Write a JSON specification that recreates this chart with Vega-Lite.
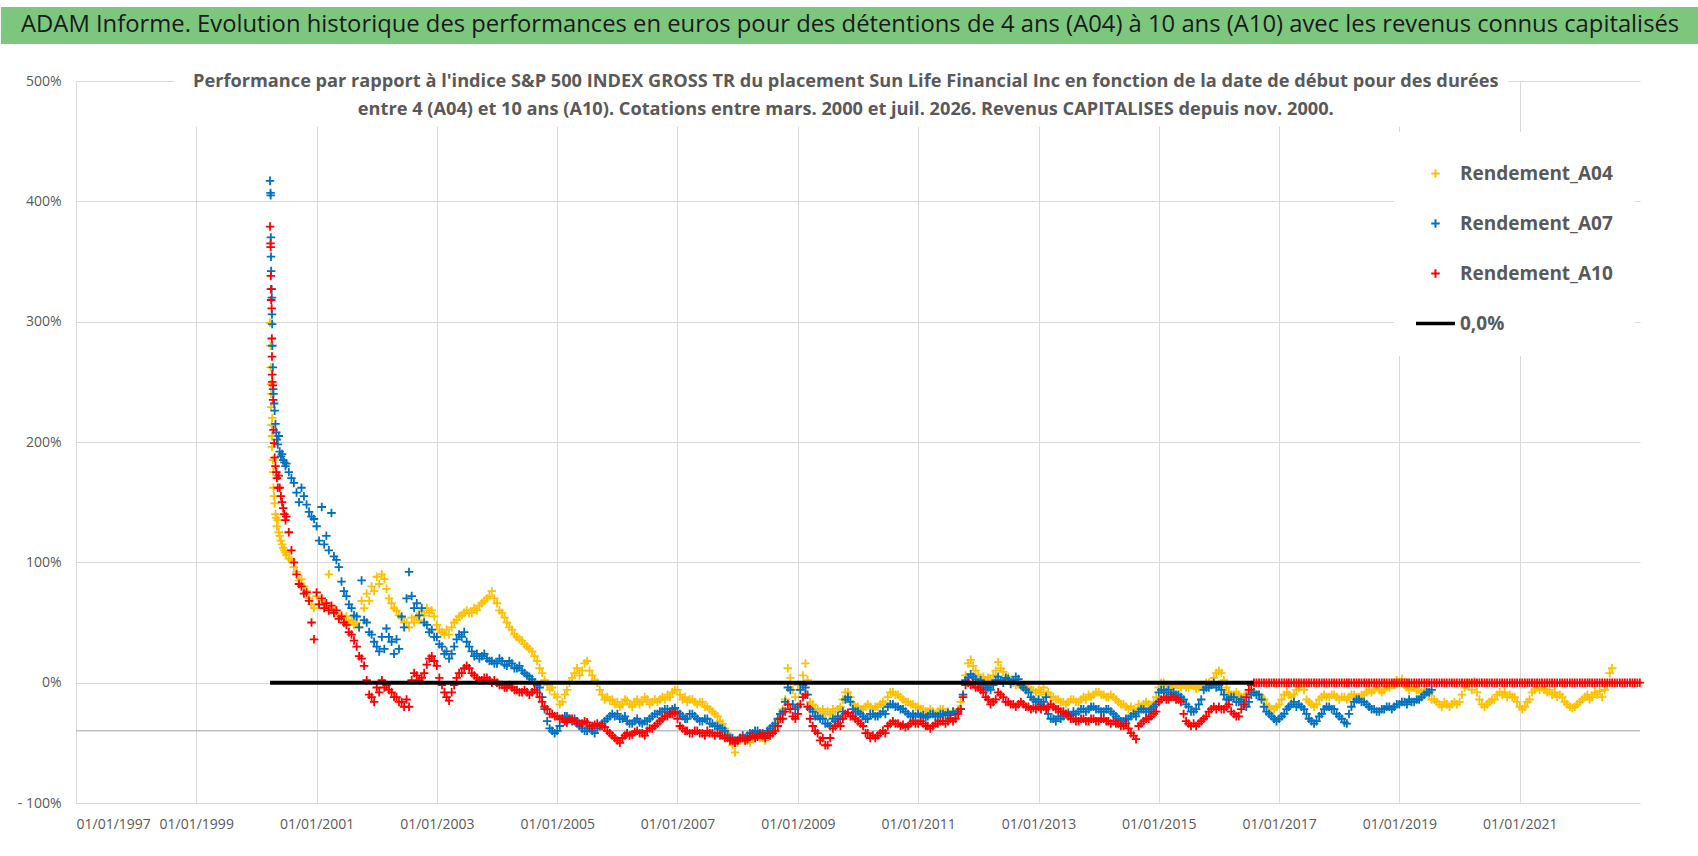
{
"$schema":"https://vega.github.io/schema/vega-lite/v6.json",
"background":"white",
"padding":{"left":0,"top":6,"right":0,"bottom":0},
"autosize":{"type":"pad"},
"width":1564,"height":722,
"config":{
 "view":{"stroke":null},
 "font":"Open Sans",
 "axis":{"gridColor":"#D9D9D9","gridWidth":1,"labelColor":"#595959","labelFont":"Open Sans","labelFontSize":14,"ticks":false,"domain":false}
},
"datasets":{
"zero":[{"d":"2000-03-24","v":0},{"d":"2016-07-31","v":0}],
"perf":[
{"d":"2000-03-24","A04":2.99,"A07":4.17,"A10":3.79},
{"d":"2000-03-27","A04":2.80,"A07":4.07,"A10":3.65},
{"d":"2000-03-28","A04":2.62,"A07":4.05,"A10":3.62},
{"d":"2000-03-29","A04":2.48,"A07":3.70,"A10":3.38},
{"d":"2000-03-30","A04":2.40,"A07":3.54,"A10":3.27},
{"d":"2000-03-31","A04":2.29,"A07":3.42,"A10":3.18},
{"d":"2000-04-03","A04":2.14,"A07":3.27,"A10":3.11},
{"d":"2000-04-04","A04":2.05,"A07":3.20,"A10":2.86},
{"d":"2000-04-05","A04":1.96,"A07":3.06,"A10":2.71},
{"d":"2000-04-06","A04":2.20,"A07":2.98,"A10":2.56},
{"d":"2000-04-07","A04":2.05,"A07":2.80,"A10":2.50},
{"d":"2000-04-10","A04":1.85,"A07":2.62,"A10":2.47},
{"d":"2000-04-12","A04":1.75,"A07":2.44,"A10":2.35},
{"d":"2000-04-14","A04":1.62,"A07":2.40,"A10":2.10},
{"d":"2000-04-18","A04":1.55,"A07":2.32,"A10":1.99},
{"d":"2000-04-21","A04":1.49,"A07":2.26,"A10":1.87},
{"d":"2000-04-26","A04":1.40,"A07":2.15,"A10":1.80},
{"d":"2000-05-01","A04":1.37,"A07":2.08,"A10":1.75},
{"d":"2000-05-05","A04":1.30,"A07":2.02,"A10":1.70},
{"d":"2000-05-10","A04":1.35,"A07":1.98,"A10":1.62},
{"d":"2000-05-16","A04":1.25,"A07":2.05,"A10":1.72},
{"d":"2000-05-22","A04":1.22,"A07":1.92,"A10":1.62},
{"d":"2000-05-29","A04":1.18,"A07":1.88,"A10":1.55},
{"d":"2000-06-05","A04":1.15,"A07":1.90,"A10":1.50},
{"d":"2000-06-12","A04":1.12,"A07":1.85,"A10":1.45},
{"d":"2000-06-19","A04":1.10,"A07":1.83,"A10":1.40},
{"d":"2000-06-26","A04":1.08,"A07":1.80,"A10":1.35},
{"d":"2000-07-01","A04":1.06,"A07":1.82,"A10":1.38},
{"d":"2000-07-16","A04":1.03,"A07":1.75,"A10":1.25},
{"d":"2000-08-01","A04":1.02,"A07":1.70,"A10":1.10},
{"d":"2000-08-16","A04":0.96,"A07":1.66,"A10":1.00},
{"d":"2000-09-01","A04":0.92,"A07":1.58,"A10":0.90},
{"d":"2000-09-16","A04":0.85,"A07":1.50,"A10":0.82},
{"d":"2000-10-01","A04":0.86,"A07":1.62,"A10":0.80},
{"d":"2000-10-16","A04":0.80,"A07":1.55,"A10":0.74},
{"d":"2000-11-01","A04":0.76,"A07":1.48,"A10":0.75},
{"d":"2000-11-16","A04":0.70,"A07":1.42,"A10":0.68},
{"d":"2000-12-01","A04":0.65,"A07":1.38,"A10":0.50},
{"d":"2000-12-16","A04":0.62,"A07":1.36,"A10":0.36},
{"d":"2001-01-01","A04":0.72,"A07":1.30,"A10":0.75},
{"d":"2001-01-16","A04":0.65,"A07":1.18,"A10":0.65},
{"d":"2001-02-01","A04":0.68,"A07":1.46,"A10":0.70},
{"d":"2001-02-16","A04":0.62,"A07":1.15,"A10":0.62},
{"d":"2001-03-01","A04":0.64,"A07":1.22,"A10":0.66},
{"d":"2001-03-16","A04":0.90,"A07":1.10,"A10":0.60},
{"d":"2001-04-01","A04":0.62,"A07":1.41,"A10":0.64},
{"d":"2001-04-16","A04":0.58,"A07":1.05,"A10":0.58},
{"d":"2001-05-01","A04":0.60,"A07":1.02,"A10":0.60},
{"d":"2001-05-16","A04":0.55,"A07":0.96,"A10":0.53},
{"d":"2001-06-01","A04":0.56,"A07":0.84,"A10":0.55},
{"d":"2001-06-16","A04":0.50,"A07":0.76,"A10":0.50},
{"d":"2001-07-01","A04":0.55,"A07":0.72,"A10":0.48},
{"d":"2001-07-16","A04":0.50,"A07":0.65,"A10":0.42},
{"d":"2001-08-01","A04":0.52,"A07":0.62,"A10":0.40},
{"d":"2001-08-16","A04":0.48,"A07":0.56,"A10":0.35},
{"d":"2001-09-01","A04":0.50,"A07":0.55,"A10":0.30},
{"d":"2001-09-16","A04":0.46,"A07":0.46,"A10":0.22},
{"d":"2001-10-01","A04":0.68,"A07":0.85,"A10":0.20},
{"d":"2001-10-16","A04":0.62,"A07":0.52,"A10":0.14},
{"d":"2001-11-01","A04":0.74,"A07":0.50,"A10":0.02},
{"d":"2001-11-16","A04":0.68,"A07":0.42,"A10":-0.10},
{"d":"2001-12-01","A04":0.80,"A07":0.40,"A10":-0.12},
{"d":"2001-12-16","A04":0.76,"A07":0.34,"A10":-0.16},
{"d":"2002-01-01","A04":0.88,"A07":0.30,"A10":-0.04},
{"d":"2002-01-16","A04":0.82,"A07":0.26,"A10":-0.08},
{"d":"2002-02-01","A04":0.90,"A07":0.38,"A10":0.02},
{"d":"2002-02-16","A04":0.86,"A07":0.28,"A10":-0.04},
{"d":"2002-03-01","A04":0.78,"A07":0.45,"A10":-0.02},
{"d":"2002-03-16","A04":0.70,"A07":0.38,"A10":-0.06},
{"d":"2002-04-01","A04":0.66,"A07":0.34,"A10":-0.08},
{"d":"2002-04-16","A04":0.62,"A07":0.24,"A10":-0.12},
{"d":"2002-05-01","A04":0.60,"A07":0.36,"A10":-0.12},
{"d":"2002-05-16","A04":0.56,"A07":0.28,"A10":-0.16},
{"d":"2002-06-01","A04":0.54,"A07":0.55,"A10":-0.16},
{"d":"2002-06-16","A04":0.50,"A07":0.46,"A10":-0.20},
{"d":"2002-07-01","A04":0.50,"A07":0.70,"A10":-0.14},
{"d":"2002-07-16","A04":0.46,"A07":0.92,"A10":-0.20},
{"d":"2002-08-01","A04":0.54,"A07":0.72,"A10":0.02},
{"d":"2002-08-16","A04":0.50,"A07":0.62,"A10":0.08},
{"d":"2002-09-01","A04":0.55,"A07":0.66,"A10":0.06},
{"d":"2002-09-16","A04":0.52,"A07":0.56,"A10":0.02},
{"d":"2002-10-01","A04":0.60,"A07":0.62,"A10":0.04},
{"d":"2002-10-16","A04":0.56,"A07":0.50,"A10":0.08},
{"d":"2002-11-01","A04":0.62,"A07":0.48,"A10":0.15},
{"d":"2002-11-16","A04":0.58,"A07":0.42,"A10":0.20},
{"d":"2002-12-01","A04":0.60,"A07":0.44,"A10":0.22},
{"d":"2002-12-16","A04":0.55,"A07":0.38,"A10":0.18},
{"d":"2003-01-01","A04":0.48,"A07":0.38,"A10":0.14},
{"d":"2003-01-16","A04":0.44,"A07":0.32,"A10":0.04},
{"d":"2003-02-01","A04":0.42,"A07":0.30,"A10":-0.02},
{"d":"2003-02-16","A04":0.40,"A07":0.24,"A10":-0.08},
{"d":"2003-03-01","A04":0.44,"A07":0.26,"A10":-0.12},
{"d":"2003-03-16","A04":0.40,"A07":0.20,"A10":-0.15},
{"d":"2003-04-01","A04":0.46,"A07":0.24,"A10":-0.08},
{"d":"2003-04-16","A04":0.50,"A07":0.30,"A10":-0.02},
{"d":"2003-05-01","A04":0.52,"A07":0.36,"A10":0.04},
{"d":"2003-05-16","A04":0.55,"A07":0.40,"A10":0.08},
{"d":"2003-06-01","A04":0.56,"A07":0.38,"A10":0.08},
{"d":"2003-06-16","A04":0.58,"A07":0.42,"A10":0.12},
{"d":"2003-07-01","A04":0.60,"A07":0.34,"A10":0.14},
{"d":"2003-07-16","A04":0.58,"A07":0.30,"A10":0.12},
{"d":"2003-08-01","A04":0.58,"A07":0.26,"A10":0.08},
{"d":"2003-08-16","A04":0.62,"A07":0.22,"A10":0.06},
{"d":"2003-09-01","A04":0.60,"A07":0.24,"A10":0.04},
{"d":"2003-09-16","A04":0.64,"A07":0.20,"A10":0.02},
{"d":"2003-10-01","A04":0.66,"A07":0.22,"A10":0.02},
{"d":"2003-10-16","A04":0.68,"A07":0.24,"A10":0.04},
{"d":"2003-11-01","A04":0.70,"A07":0.20,"A10":0.04},
{"d":"2003-11-16","A04":0.72,"A07":0.18,"A10":0.02},
{"d":"2003-12-01","A04":0.76,"A07":0.18,"A10":0.00},
{"d":"2003-12-16","A04":0.70,"A07":0.16,"A10":0.02},
{"d":"2004-01-01","A04":0.66,"A07":0.16,"A10":0.00},
{"d":"2004-01-16","A04":0.60,"A07":0.20,"A10":-0.02},
{"d":"2004-02-01","A04":0.58,"A07":0.18,"A10":-0.02},
{"d":"2004-02-16","A04":0.54,"A07":0.15,"A10":-0.04},
{"d":"2004-03-01","A04":0.50,"A07":0.14,"A10":-0.04},
{"d":"2004-03-16","A04":0.46,"A07":0.18,"A10":-0.02},
{"d":"2004-04-01","A04":0.44,"A07":0.16,"A10":-0.04},
{"d":"2004-04-16","A04":0.40,"A07":0.12,"A10":-0.06},
{"d":"2004-05-01","A04":0.38,"A07":0.12,"A10":-0.06},
{"d":"2004-05-16","A04":0.36,"A07":0.14,"A10":-0.08},
{"d":"2004-06-01","A04":0.35,"A07":0.10,"A10":-0.08},
{"d":"2004-06-16","A04":0.32,"A07":0.08,"A10":-0.06},
{"d":"2004-07-01","A04":0.30,"A07":0.06,"A10":-0.08},
{"d":"2004-07-16","A04":0.28,"A07":0.05,"A10":-0.10},
{"d":"2004-08-01","A04":0.26,"A07":0.03,"A10":-0.08},
{"d":"2004-08-16","A04":0.22,"A07":0.00,"A10":-0.06},
{"d":"2004-09-01","A04":0.18,"A07":-0.02,"A10":-0.08},
{"d":"2004-09-16","A04":0.12,"A07":-0.04,"A10":-0.12},
{"d":"2004-10-01","A04":0.08,"A07":-0.12,"A10":-0.16},
{"d":"2004-10-16","A04":0.02,"A07":-0.22,"A10":-0.20},
{"d":"2004-11-01","A04":-0.02,"A07":-0.32,"A10":-0.22},
{"d":"2004-11-16","A04":-0.06,"A07":-0.38,"A10":-0.26},
{"d":"2004-12-01","A04":-0.04,"A07":-0.40,"A10":-0.26},
{"d":"2004-12-16","A04":-0.10,"A07":-0.42,"A10":-0.28},
{"d":"2005-01-01","A04":-0.12,"A07":-0.40,"A10":-0.28},
{"d":"2005-01-16","A04":-0.18,"A07":-0.36,"A10":-0.30},
{"d":"2005-02-01","A04":-0.16,"A07":-0.30,"A10":-0.30},
{"d":"2005-02-16","A04":-0.10,"A07":-0.28,"A10":-0.32},
{"d":"2005-03-01","A04":-0.06,"A07":-0.28,"A10":-0.33},
{"d":"2005-03-16","A04":0.00,"A07":-0.30,"A10":-0.30},
{"d":"2005-04-01","A04":0.04,"A07":-0.32,"A10":-0.30},
{"d":"2005-04-16","A04":0.08,"A07":-0.30,"A10":-0.32},
{"d":"2005-05-01","A04":0.12,"A07":-0.34,"A10":-0.32},
{"d":"2005-05-16","A04":0.06,"A07":-0.36,"A10":-0.34},
{"d":"2005-06-01","A04":0.10,"A07":-0.38,"A10":-0.34},
{"d":"2005-06-16","A04":0.16,"A07":-0.40,"A10":-0.32},
{"d":"2005-07-01","A04":0.18,"A07":-0.40,"A10":-0.33},
{"d":"2005-07-16","A04":0.10,"A07":-0.38,"A10":-0.36},
{"d":"2005-08-01","A04":0.06,"A07":-0.40,"A10":-0.36},
{"d":"2005-08-16","A04":0.02,"A07":-0.42,"A10":-0.35},
{"d":"2005-09-01","A04":0.00,"A07":-0.38,"A10":-0.34},
{"d":"2005-09-16","A04":-0.06,"A07":-0.36,"A10":-0.36},
{"d":"2005-10-01","A04":-0.10,"A07":-0.34,"A10":-0.36},
{"d":"2005-10-16","A04":-0.14,"A07":-0.32,"A10":-0.37},
{"d":"2005-11-01","A04":-0.12,"A07":-0.30,"A10":-0.40},
{"d":"2005-11-16","A04":-0.15,"A07":-0.28,"A10":-0.42},
{"d":"2005-12-01","A04":-0.14,"A07":-0.26,"A10":-0.44},
{"d":"2005-12-16","A04":-0.18,"A07":-0.28,"A10":-0.46},
{"d":"2006-01-01","A04":-0.16,"A07":-0.26,"A10":-0.48},
{"d":"2006-01-16","A04":-0.20,"A07":-0.30,"A10":-0.50},
{"d":"2006-02-01","A04":-0.18,"A07":-0.30,"A10":-0.46},
{"d":"2006-02-16","A04":-0.14,"A07":-0.28,"A10":-0.44},
{"d":"2006-03-01","A04":-0.15,"A07":-0.32,"A10":-0.42},
{"d":"2006-03-16","A04":-0.18,"A07":-0.34,"A10":-0.44},
{"d":"2006-04-01","A04":-0.20,"A07":-0.34,"A10":-0.43},
{"d":"2006-04-16","A04":-0.16,"A07":-0.32,"A10":-0.41},
{"d":"2006-05-01","A04":-0.14,"A07":-0.30,"A10":-0.40},
{"d":"2006-05-16","A04":-0.18,"A07":-0.33,"A10":-0.42},
{"d":"2006-06-01","A04":-0.16,"A07":-0.34,"A10":-0.42},
{"d":"2006-06-16","A04":-0.12,"A07":-0.32,"A10":-0.44},
{"d":"2006-07-01","A04":-0.14,"A07":-0.32,"A10":-0.40},
{"d":"2006-07-16","A04":-0.18,"A07":-0.30,"A10":-0.38},
{"d":"2006-08-01","A04":-0.16,"A07":-0.28,"A10":-0.38},
{"d":"2006-08-16","A04":-0.14,"A07":-0.26,"A10":-0.36},
{"d":"2006-09-01","A04":-0.16,"A07":-0.26,"A10":-0.34},
{"d":"2006-09-16","A04":-0.14,"A07":-0.24,"A10":-0.32},
{"d":"2006-10-01","A04":-0.12,"A07":-0.24,"A10":-0.30},
{"d":"2006-10-16","A04":-0.14,"A07":-0.22,"A10":-0.28},
{"d":"2006-11-01","A04":-0.10,"A07":-0.22,"A10":-0.28},
{"d":"2006-11-16","A04":-0.12,"A07":-0.24,"A10":-0.26},
{"d":"2006-12-01","A04":-0.08,"A07":-0.22,"A10":-0.26},
{"d":"2006-12-16","A04":-0.06,"A07":-0.21,"A10":-0.25},
{"d":"2007-01-01","A04":-0.06,"A07":-0.24,"A10":-0.30},
{"d":"2007-01-16","A04":-0.10,"A07":-0.26,"A10":-0.36},
{"d":"2007-02-01","A04":-0.14,"A07":-0.28,"A10":-0.38},
{"d":"2007-02-16","A04":-0.12,"A07":-0.30,"A10":-0.40},
{"d":"2007-03-01","A04":-0.16,"A07":-0.30,"A10":-0.40},
{"d":"2007-03-16","A04":-0.14,"A07":-0.26,"A10":-0.42},
{"d":"2007-04-01","A04":-0.14,"A07":-0.26,"A10":-0.42},
{"d":"2007-04-16","A04":-0.16,"A07":-0.28,"A10":-0.40},
{"d":"2007-05-01","A04":-0.18,"A07":-0.30,"A10":-0.40},
{"d":"2007-05-16","A04":-0.16,"A07":-0.32,"A10":-0.42},
{"d":"2007-06-01","A04":-0.16,"A07":-0.32,"A10":-0.42},
{"d":"2007-06-16","A04":-0.20,"A07":-0.30,"A10":-0.44},
{"d":"2007-07-01","A04":-0.20,"A07":-0.30,"A10":-0.40},
{"d":"2007-07-16","A04":-0.22,"A07":-0.34,"A10":-0.42},
{"d":"2007-08-01","A04":-0.24,"A07":-0.34,"A10":-0.42},
{"d":"2007-08-16","A04":-0.26,"A07":-0.36,"A10":-0.44},
{"d":"2007-09-01","A04":-0.28,"A07":-0.36,"A10":-0.42},
{"d":"2007-09-16","A04":-0.32,"A07":-0.38,"A10":-0.44},
{"d":"2007-10-01","A04":-0.34,"A07":-0.38,"A10":-0.44},
{"d":"2007-10-16","A04":-0.38,"A07":-0.40,"A10":-0.46},
{"d":"2007-11-01","A04":-0.42,"A07":-0.44,"A10":-0.46},
{"d":"2007-11-16","A04":-0.46,"A07":-0.46,"A10":-0.48},
{"d":"2007-12-01","A04":-0.52,"A07":-0.46,"A10":-0.48},
{"d":"2007-12-16","A04":-0.58,"A07":-0.48,"A10":-0.50},
{"d":"2008-01-01","A04":-0.50,"A07":-0.48,"A10":-0.48},
{"d":"2008-01-16","A04":-0.48,"A07":-0.46,"A10":-0.46},
{"d":"2008-02-01","A04":-0.46,"A07":-0.44,"A10":-0.46},
{"d":"2008-02-16","A04":-0.48,"A07":-0.46,"A10":-0.48},
{"d":"2008-03-01","A04":-0.48,"A07":-0.44,"A10":-0.47},
{"d":"2008-03-16","A04":-0.50,"A07":-0.42,"A10":-0.45},
{"d":"2008-04-01","A04":-0.46,"A07":-0.42,"A10":-0.44},
{"d":"2008-04-16","A04":-0.44,"A07":-0.40,"A10":-0.46},
{"d":"2008-05-01","A04":-0.44,"A07":-0.40,"A10":-0.45},
{"d":"2008-05-16","A04":-0.46,"A07":-0.42,"A10":-0.43},
{"d":"2008-06-01","A04":-0.46,"A07":-0.42,"A10":-0.44},
{"d":"2008-06-16","A04":-0.48,"A07":-0.44,"A10":-0.46},
{"d":"2008-07-01","A04":-0.44,"A07":-0.40,"A10":-0.42},
{"d":"2008-07-16","A04":-0.42,"A07":-0.38,"A10":-0.44},
{"d":"2008-08-01","A04":-0.40,"A07":-0.36,"A10":-0.42},
{"d":"2008-08-16","A04":-0.36,"A07":-0.34,"A10":-0.40},
{"d":"2008-09-01","A04":-0.32,"A07":-0.30,"A10":-0.36},
{"d":"2008-09-16","A04":-0.26,"A07":-0.26,"A10":-0.30},
{"d":"2008-10-01","A04":-0.22,"A07":-0.24,"A10":-0.30},
{"d":"2008-10-16","A04":-0.14,"A07":-0.16,"A10":-0.24},
{"d":"2008-11-01","A04":0.12,"A07":-0.04,"A10":-0.18},
{"d":"2008-11-16","A04":0.04,"A07":-0.06,"A10":-0.22},
{"d":"2008-12-01","A04":-0.06,"A07":-0.18,"A10":-0.28},
{"d":"2008-12-16","A04":-0.12,"A07":-0.22,"A10":-0.30},
{"d":"2009-01-01","A04":-0.02,"A07":-0.20,"A10":-0.26},
{"d":"2009-01-16","A04":-0.06,"A07":-0.06,"A10":-0.18},
{"d":"2009-02-01","A04":0.06,"A07":-0.02,"A10":-0.12},
{"d":"2009-02-16","A04":0.16,"A07":-0.04,"A10":-0.10},
{"d":"2009-03-01","A04":0.02,"A07":-0.10,"A10":-0.20},
{"d":"2009-03-16","A04":-0.16,"A07":-0.22,"A10":-0.30},
{"d":"2009-04-01","A04":-0.18,"A07":-0.24,"A10":-0.36},
{"d":"2009-04-16","A04":-0.22,"A07":-0.28,"A10":-0.40},
{"d":"2009-05-01","A04":-0.22,"A07":-0.28,"A10":-0.42},
{"d":"2009-05-16","A04":-0.24,"A07":-0.30,"A10":-0.48},
{"d":"2009-06-01","A04":-0.22,"A07":-0.30,"A10":-0.46},
{"d":"2009-06-16","A04":-0.26,"A07":-0.34,"A10":-0.52},
{"d":"2009-07-01","A04":-0.24,"A07":-0.34,"A10":-0.52},
{"d":"2009-07-16","A04":-0.26,"A07":-0.36,"A10":-0.46},
{"d":"2009-08-01","A04":-0.22,"A07":-0.30,"A10":-0.38},
{"d":"2009-08-16","A04":-0.24,"A07":-0.32,"A10":-0.36},
{"d":"2009-09-01","A04":-0.22,"A07":-0.28,"A10":-0.34},
{"d":"2009-09-16","A04":-0.20,"A07":-0.30,"A10":-0.36},
{"d":"2009-10-01","A04":-0.14,"A07":-0.24,"A10":-0.30},
{"d":"2009-10-16","A04":-0.08,"A07":-0.14,"A10":-0.26},
{"d":"2009-11-01","A04":-0.08,"A07":-0.12,"A10":-0.25},
{"d":"2009-11-16","A04":-0.12,"A07":-0.16,"A10":-0.28},
{"d":"2009-12-01","A04":-0.18,"A07":-0.22,"A10":-0.28},
{"d":"2009-12-16","A04":-0.20,"A07":-0.24,"A10":-0.30},
{"d":"2010-01-01","A04":-0.20,"A07":-0.24,"A10":-0.32},
{"d":"2010-01-16","A04":-0.22,"A07":-0.26,"A10":-0.34},
{"d":"2010-02-01","A04":-0.22,"A07":-0.28,"A10":-0.36},
{"d":"2010-02-16","A04":-0.20,"A07":-0.30,"A10":-0.42},
{"d":"2010-03-01","A04":-0.18,"A07":-0.30,"A10":-0.42},
{"d":"2010-03-16","A04":-0.20,"A07":-0.26,"A10":-0.46},
{"d":"2010-04-01","A04":-0.22,"A07":-0.26,"A10":-0.44},
{"d":"2010-04-16","A04":-0.20,"A07":-0.28,"A10":-0.46},
{"d":"2010-05-01","A04":-0.20,"A07":-0.28,"A10":-0.44},
{"d":"2010-05-16","A04":-0.18,"A07":-0.26,"A10":-0.42},
{"d":"2010-06-01","A04":-0.16,"A07":-0.24,"A10":-0.40},
{"d":"2010-06-16","A04":-0.18,"A07":-0.26,"A10":-0.42},
{"d":"2010-07-01","A04":-0.12,"A07":-0.20,"A10":-0.36},
{"d":"2010-07-16","A04":-0.08,"A07":-0.18,"A10":-0.34},
{"d":"2010-08-01","A04":-0.08,"A07":-0.18,"A10":-0.32},
{"d":"2010-08-16","A04":-0.10,"A07":-0.20,"A10":-0.34},
{"d":"2010-09-01","A04":-0.10,"A07":-0.20,"A10":-0.34},
{"d":"2010-09-16","A04":-0.12,"A07":-0.22,"A10":-0.36},
{"d":"2010-10-01","A04":-0.14,"A07":-0.22,"A10":-0.35},
{"d":"2010-10-16","A04":-0.16,"A07":-0.24,"A10":-0.37},
{"d":"2010-11-01","A04":-0.16,"A07":-0.26,"A10":-0.36},
{"d":"2010-11-16","A04":-0.18,"A07":-0.28,"A10":-0.34},
{"d":"2010-12-01","A04":-0.18,"A07":-0.26,"A10":-0.32},
{"d":"2010-12-16","A04":-0.20,"A07":-0.28,"A10":-0.34},
{"d":"2011-01-01","A04":-0.20,"A07":-0.26,"A10":-0.34},
{"d":"2011-01-16","A04":-0.22,"A07":-0.28,"A10":-0.32},
{"d":"2011-02-01","A04":-0.22,"A07":-0.27,"A10":-0.34},
{"d":"2011-02-16","A04":-0.24,"A07":-0.29,"A10":-0.36},
{"d":"2011-03-01","A04":-0.24,"A07":-0.28,"A10":-0.36},
{"d":"2011-03-16","A04":-0.22,"A07":-0.26,"A10":-0.38},
{"d":"2011-04-01","A04":-0.24,"A07":-0.26,"A10":-0.36},
{"d":"2011-04-16","A04":-0.26,"A07":-0.28,"A10":-0.34},
{"d":"2011-05-01","A04":-0.24,"A07":-0.28,"A10":-0.34},
{"d":"2011-05-16","A04":-0.22,"A07":-0.26,"A10":-0.32},
{"d":"2011-06-01","A04":-0.22,"A07":-0.26,"A10":-0.32},
{"d":"2011-06-16","A04":-0.25,"A07":-0.27,"A10":-0.34},
{"d":"2011-07-01","A04":-0.24,"A07":-0.25,"A10":-0.32},
{"d":"2011-07-16","A04":-0.26,"A07":-0.27,"A10":-0.30},
{"d":"2011-08-01","A04":-0.24,"A07":-0.24,"A10":-0.32},
{"d":"2011-08-16","A04":-0.26,"A07":-0.26,"A10":-0.30},
{"d":"2011-09-01","A04":-0.22,"A07":-0.24,"A10":-0.26},
{"d":"2011-09-16","A04":-0.16,"A07":-0.22,"A10":-0.22},
{"d":"2011-10-01","A04":-0.10,"A07":-0.10,"A10":-0.12},
{"d":"2011-10-16","A04":0.06,"A07":0.02,"A10":-0.02},
{"d":"2011-11-01","A04":0.16,"A07":0.04,"A10":0.00},
{"d":"2011-11-16","A04":0.19,"A07":0.07,"A10":-0.02},
{"d":"2011-12-01","A04":0.14,"A07":0.05,"A10":-0.01},
{"d":"2011-12-16","A04":0.10,"A07":0.03,"A10":-0.04},
{"d":"2012-01-01","A04":0.06,"A07":0.00,"A10":-0.04},
{"d":"2012-01-16","A04":0.04,"A07":0.02,"A10":-0.06},
{"d":"2012-02-01","A04":0.05,"A07":-0.02,"A10":-0.08},
{"d":"2012-02-16","A04":0.02,"A07":-0.04,"A10":-0.12},
{"d":"2012-03-01","A04":0.04,"A07":-0.04,"A10":-0.14},
{"d":"2012-03-16","A04":0.02,"A07":-0.06,"A10":-0.18},
{"d":"2012-04-01","A04":0.06,"A07":-0.02,"A10":-0.16},
{"d":"2012-04-16","A04":0.10,"A07":0.02,"A10":-0.14},
{"d":"2012-05-01","A04":0.17,"A07":0.05,"A10":-0.08},
{"d":"2012-05-16","A04":0.12,"A07":0.02,"A10":-0.10},
{"d":"2012-06-01","A04":0.09,"A07":0.00,"A10":-0.12},
{"d":"2012-06-16","A04":0.04,"A07":0.04,"A10":-0.16},
{"d":"2012-07-01","A04":0.05,"A07":0.03,"A10":-0.16},
{"d":"2012-07-16","A04":0.02,"A07":-0.01,"A10":-0.18},
{"d":"2012-08-01","A04":0.00,"A07":0.02,"A10":-0.18},
{"d":"2012-08-16","A04":-0.02,"A07":0.05,"A10":-0.20},
{"d":"2012-09-01","A04":-0.01,"A07":0.03,"A10":-0.18},
{"d":"2012-09-16","A04":-0.03,"A07":-0.02,"A10":-0.16},
{"d":"2012-10-01","A04":-0.02,"A07":-0.04,"A10":-0.18},
{"d":"2012-10-16","A04":-0.05,"A07":-0.06,"A10":-0.20},
{"d":"2012-11-01","A04":-0.04,"A07":-0.08,"A10":-0.20},
{"d":"2012-11-16","A04":-0.06,"A07":-0.12,"A10":-0.22},
{"d":"2012-12-01","A04":-0.06,"A07":-0.14,"A10":-0.21},
{"d":"2012-12-16","A04":-0.08,"A07":-0.16,"A10":-0.22},
{"d":"2013-01-01","A04":-0.06,"A07":-0.14,"A10":-0.20},
{"d":"2013-01-16","A04":-0.08,"A07":-0.18,"A10":-0.22},
{"d":"2013-02-01","A04":-0.04,"A07":-0.16,"A10":-0.20},
{"d":"2013-02-16","A04":-0.10,"A07":-0.12,"A10":-0.22},
{"d":"2013-03-01","A04":-0.08,"A07":-0.26,"A10":-0.20},
{"d":"2013-03-16","A04":-0.12,"A07":-0.30,"A10":-0.18},
{"d":"2013-04-01","A04":-0.12,"A07":-0.30,"A10":-0.20},
{"d":"2013-04-16","A04":-0.14,"A07":-0.32,"A10":-0.22},
{"d":"2013-05-01","A04":-0.14,"A07":-0.28,"A10":-0.22},
{"d":"2013-05-16","A04":-0.16,"A07":-0.30,"A10":-0.24},
{"d":"2013-06-01","A04":-0.16,"A07":-0.28,"A10":-0.24},
{"d":"2013-06-16","A04":-0.18,"A07":-0.26,"A10":-0.26},
{"d":"2013-07-01","A04":-0.16,"A07":-0.25,"A10":-0.28},
{"d":"2013-07-16","A04":-0.14,"A07":-0.27,"A10":-0.30},
{"d":"2013-08-01","A04":-0.14,"A07":-0.24,"A10":-0.30},
{"d":"2013-08-16","A04":-0.16,"A07":-0.26,"A10":-0.32},
{"d":"2013-09-01","A04":-0.16,"A07":-0.24,"A10":-0.32},
{"d":"2013-09-16","A04":-0.14,"A07":-0.22,"A10":-0.30},
{"d":"2013-10-01","A04":-0.12,"A07":-0.22,"A10":-0.30},
{"d":"2013-10-16","A04":-0.14,"A07":-0.24,"A10":-0.32},
{"d":"2013-11-01","A04":-0.10,"A07":-0.22,"A10":-0.32},
{"d":"2013-11-16","A04":-0.12,"A07":-0.20,"A10":-0.30},
{"d":"2013-12-01","A04":-0.10,"A07":-0.20,"A10":-0.30},
{"d":"2013-12-16","A04":-0.08,"A07":-0.22,"A10":-0.32},
{"d":"2014-01-01","A04":-0.08,"A07":-0.22,"A10":-0.32},
{"d":"2014-01-16","A04":-0.10,"A07":-0.24,"A10":-0.30},
{"d":"2014-02-01","A04":-0.10,"A07":-0.24,"A10":-0.30},
{"d":"2014-02-16","A04":-0.12,"A07":-0.22,"A10":-0.32},
{"d":"2014-03-01","A04":-0.12,"A07":-0.22,"A10":-0.32},
{"d":"2014-03-16","A04":-0.10,"A07":-0.24,"A10":-0.34},
{"d":"2014-04-01","A04":-0.12,"A07":-0.26,"A10":-0.32},
{"d":"2014-04-16","A04":-0.14,"A07":-0.28,"A10":-0.34},
{"d":"2014-05-01","A04":-0.16,"A07":-0.30,"A10":-0.34},
{"d":"2014-05-16","A04":-0.18,"A07":-0.32,"A10":-0.36},
{"d":"2014-06-01","A04":-0.18,"A07":-0.32,"A10":-0.36},
{"d":"2014-06-16","A04":-0.20,"A07":-0.30,"A10":-0.34},
{"d":"2014-07-01","A04":-0.22,"A07":-0.30,"A10":-0.38},
{"d":"2014-07-16","A04":-0.20,"A07":-0.28,"A10":-0.42},
{"d":"2014-08-01","A04":-0.22,"A07":-0.26,"A10":-0.44},
{"d":"2014-08-16","A04":-0.24,"A07":-0.28,"A10":-0.47},
{"d":"2014-09-01","A04":-0.18,"A07":-0.24,"A10":-0.36},
{"d":"2014-09-16","A04":-0.20,"A07":-0.22,"A10":-0.34},
{"d":"2014-10-01","A04":-0.18,"A07":-0.22,"A10":-0.32},
{"d":"2014-10-16","A04":-0.16,"A07":-0.24,"A10":-0.30},
{"d":"2014-11-01","A04":-0.18,"A07":-0.24,"A10":-0.30},
{"d":"2014-11-16","A04":-0.20,"A07":-0.22,"A10":-0.28},
{"d":"2014-12-01","A04":-0.16,"A07":-0.20,"A10":-0.26},
{"d":"2014-12-16","A04":-0.12,"A07":-0.18,"A10":-0.24},
{"d":"2015-01-01","A04":-0.04,"A07":-0.08,"A10":-0.16},
{"d":"2015-01-16","A04":0.00,"A07":-0.06,"A10":-0.14},
{"d":"2015-02-01","A04":0.00,"A07":-0.06,"A10":-0.12},
{"d":"2015-02-16","A04":-0.02,"A07":-0.08,"A10":-0.14},
{"d":"2015-03-01","A04":-0.02,"A07":-0.06,"A10":-0.14},
{"d":"2015-03-16","A04":-0.04,"A07":-0.10,"A10":-0.12},
{"d":"2015-04-01","A04":-0.04,"A07":-0.08,"A10":-0.12},
{"d":"2015-04-16","A04":-0.02,"A07":-0.10,"A10":-0.14},
{"d":"2015-05-01","A04":-0.02,"A07":-0.10,"A10":-0.14},
{"d":"2015-05-16","A04":-0.04,"A07":-0.12,"A10":-0.16},
{"d":"2015-06-01","A04":-0.02,"A07":-0.14,"A10":-0.26},
{"d":"2015-06-16","A04":-0.04,"A07":-0.18,"A10":-0.32},
{"d":"2015-07-01","A04":-0.04,"A07":-0.20,"A10":-0.34},
{"d":"2015-07-16","A04":-0.02,"A07":-0.24,"A10":-0.36},
{"d":"2015-08-01","A04":-0.03,"A07":-0.24,"A10":-0.34},
{"d":"2015-08-16","A04":-0.05,"A07":-0.22,"A10":-0.36},
{"d":"2015-09-01","A04":-0.04,"A07":-0.18,"A10":-0.34},
{"d":"2015-09-16","A04":-0.02,"A07":-0.14,"A10":-0.32},
{"d":"2015-10-01","A04":-0.02,"A07":-0.06,"A10":-0.30},
{"d":"2015-10-16","A04":0.00,"A07":-0.04,"A10":-0.28},
{"d":"2015-11-01","A04":0.00,"A07":-0.04,"A10":-0.24},
{"d":"2015-11-16","A04":-0.02,"A07":-0.02,"A10":-0.22},
{"d":"2015-12-01","A04":0.04,"A07":0.00,"A10":-0.20},
{"d":"2015-12-16","A04":0.08,"A07":-0.04,"A10":-0.22},
{"d":"2016-01-01","A04":0.10,"A07":-0.02,"A10":-0.20},
{"d":"2016-01-16","A04":0.08,"A07":-0.06,"A10":-0.22},
{"d":"2016-02-01","A04":0.02,"A07":-0.10,"A10":-0.22},
{"d":"2016-02-16","A04":-0.04,"A07":-0.14,"A10":-0.20},
{"d":"2016-03-01","A04":-0.08,"A07":-0.14,"A10":-0.18},
{"d":"2016-03-16","A04":-0.10,"A07":-0.12,"A10":-0.24},
{"d":"2016-04-01","A04":-0.10,"A07":-0.12,"A10":-0.26},
{"d":"2016-04-16","A04":-0.08,"A07":-0.16,"A10":-0.28},
{"d":"2016-05-01","A04":-0.10,"A07":-0.16,"A10":-0.28},
{"d":"2016-05-16","A04":-0.12,"A07":-0.14,"A10":-0.22},
{"d":"2016-06-01","A04":-0.12,"A07":-0.18,"A10":-0.18},
{"d":"2016-06-16","A04":-0.10,"A07":-0.20,"A10":-0.12},
{"d":"2016-07-01","A04":-0.08,"A07":-0.16,"A10":-0.06},
{"d":"2016-07-16","A04":-0.06,"A07":-0.10,"A10":-0.02},
{"d":"2016-08-01","A04":-0.08,"A07":-0.08,"A10":0},
{"d":"2016-08-16","A04":-0.10,"A07":-0.10,"A10":0},
{"d":"2016-09-01","A04":-0.10,"A07":-0.10,"A10":0},
{"d":"2016-09-16","A04":-0.12,"A07":-0.14,"A10":0},
{"d":"2016-10-01","A04":-0.14,"A07":-0.20,"A10":0},
{"d":"2016-10-16","A04":-0.18,"A07":-0.24,"A10":0},
{"d":"2016-11-01","A04":-0.20,"A07":-0.26,"A10":0},
{"d":"2016-11-16","A04":-0.22,"A07":-0.28,"A10":0},
{"d":"2016-12-01","A04":-0.22,"A07":-0.30,"A10":0},
{"d":"2016-12-16","A04":-0.20,"A07":-0.32,"A10":0},
{"d":"2017-01-01","A04":-0.18,"A07":-0.30,"A10":0},
{"d":"2017-01-16","A04":-0.14,"A07":-0.28,"A10":0},
{"d":"2017-02-01","A04":-0.10,"A07":-0.26,"A10":0},
{"d":"2017-02-16","A04":-0.08,"A07":-0.22,"A10":0},
{"d":"2017-03-01","A04":-0.10,"A07":-0.20,"A10":0},
{"d":"2017-03-16","A04":-0.12,"A07":-0.18,"A10":0},
{"d":"2017-04-01","A04":-0.10,"A07":-0.16,"A10":0},
{"d":"2017-04-16","A04":-0.06,"A07":-0.20,"A10":0},
{"d":"2017-05-01","A04":-0.04,"A07":-0.18,"A10":0},
{"d":"2017-05-16","A04":-0.01,"A07":-0.20,"A10":0},
{"d":"2017-06-01","A04":-0.06,"A07":-0.22,"A10":0},
{"d":"2017-06-16","A04":-0.14,"A07":-0.26,"A10":0},
{"d":"2017-07-01","A04":-0.16,"A07":-0.30,"A10":0},
{"d":"2017-07-16","A04":-0.18,"A07":-0.32,"A10":0},
{"d":"2017-08-01","A04":-0.20,"A07":-0.34,"A10":0},
{"d":"2017-08-16","A04":-0.18,"A07":-0.32,"A10":0},
{"d":"2017-09-01","A04":-0.14,"A07":-0.28,"A10":0},
{"d":"2017-09-16","A04":-0.12,"A07":-0.26,"A10":0},
{"d":"2017-10-01","A04":-0.10,"A07":-0.22,"A10":0},
{"d":"2017-10-16","A04":-0.12,"A07":-0.20,"A10":0},
{"d":"2017-11-01","A04":-0.12,"A07":-0.20,"A10":0},
{"d":"2017-11-16","A04":-0.10,"A07":-0.22,"A10":0},
{"d":"2017-12-01","A04":-0.10,"A07":-0.22,"A10":0},
{"d":"2017-12-16","A04":-0.12,"A07":-0.26,"A10":0},
{"d":"2018-01-01","A04":-0.14,"A07":-0.28,"A10":0},
{"d":"2018-01-16","A04":-0.12,"A07":-0.30,"A10":0},
{"d":"2018-02-01","A04":-0.12,"A07":-0.33,"A10":0},
{"d":"2018-02-16","A04":-0.14,"A07":-0.34,"A10":0},
{"d":"2018-03-01","A04":-0.12,"A07":-0.26,"A10":0},
{"d":"2018-03-16","A04":-0.10,"A07":-0.20,"A10":0},
{"d":"2018-04-01","A04":-0.10,"A07":-0.16,"A10":0},
{"d":"2018-04-16","A04":-0.12,"A07":-0.14,"A10":0},
{"d":"2018-05-01","A04":-0.12,"A07":-0.14,"A10":0},
{"d":"2018-05-16","A04":-0.10,"A07":-0.16,"A10":0},
{"d":"2018-06-01","A04":-0.10,"A07":-0.16,"A10":0},
{"d":"2018-06-16","A04":-0.08,"A07":-0.18,"A10":0},
{"d":"2018-07-01","A04":-0.06,"A07":-0.20,"A10":0},
{"d":"2018-07-16","A04":-0.08,"A07":-0.22,"A10":0},
{"d":"2018-08-01","A04":-0.06,"A07":-0.22,"A10":0},
{"d":"2018-08-16","A04":-0.04,"A07":-0.24,"A10":0},
{"d":"2018-09-01","A04":-0.06,"A07":-0.24,"A10":0},
{"d":"2018-09-16","A04":-0.08,"A07":-0.22,"A10":0},
{"d":"2018-10-01","A04":-0.06,"A07":-0.22,"A10":0},
{"d":"2018-10-16","A04":-0.04,"A07":-0.20,"A10":0},
{"d":"2018-11-01","A04":-0.04,"A07":-0.20,"A10":0},
{"d":"2018-11-16","A04":-0.02,"A07":-0.22,"A10":0},
{"d":"2018-12-01","A04":-0.02,"A07":-0.20,"A10":0},
{"d":"2018-12-16","A04":0.02,"A07":-0.18,"A10":0},
{"d":"2019-01-01","A04":0.00,"A07":-0.18,"A10":0},
{"d":"2019-01-16","A04":0.03,"A07":-0.16,"A10":0},
{"d":"2019-02-01","A04":-0.02,"A07":-0.16,"A10":0},
{"d":"2019-02-16","A04":-0.04,"A07":-0.18,"A10":0},
{"d":"2019-03-01","A04":-0.06,"A07":-0.14,"A10":0},
{"d":"2019-03-16","A04":-0.04,"A07":-0.16,"A10":0},
{"d":"2019-04-01","A04":-0.04,"A07":-0.16,"A10":0},
{"d":"2019-04-16","A04":-0.06,"A07":-0.14,"A10":0},
{"d":"2019-05-01","A04":-0.06,"A07":-0.14,"A10":0},
{"d":"2019-05-16","A04":-0.08,"A07":-0.12,"A10":0},
{"d":"2019-06-01","A04":-0.06,"A07":-0.10,"A10":0},
{"d":"2019-06-16","A04":-0.08,"A07":-0.08,"A10":0},
{"d":"2019-07-01","A04":-0.10,"A07":-0.08,"A10":0},
{"d":"2019-07-16","A04":-0.14,"A07":-0.06,"A10":0},
{"d":"2019-08-01","A04":-0.14,"A10":0},
{"d":"2019-08-16","A04":-0.16,"A10":0},
{"d":"2019-09-01","A04":-0.18,"A10":0},
{"d":"2019-09-16","A04":-0.20,"A10":0},
{"d":"2019-10-01","A04":-0.16,"A10":0},
{"d":"2019-10-16","A04":-0.18,"A10":0},
{"d":"2019-11-01","A04":-0.20,"A10":0},
{"d":"2019-11-16","A04":-0.18,"A10":0},
{"d":"2019-12-01","A04":-0.16,"A10":0},
{"d":"2019-12-16","A04":-0.18,"A10":0},
{"d":"2020-01-01","A04":-0.16,"A10":0},
{"d":"2020-01-16","A04":-0.10,"A10":0},
{"d":"2020-02-01","A04":-0.04,"A10":0},
{"d":"2020-02-16","A04":-0.02,"A10":0},
{"d":"2020-03-01","A04":-0.01,"A10":0},
{"d":"2020-03-16","A04":-0.06,"A10":0},
{"d":"2020-04-01","A04":0.01,"A10":0},
{"d":"2020-04-16","A04":-0.08,"A10":0},
{"d":"2020-05-01","A04":-0.14,"A10":0},
{"d":"2020-05-16","A04":-0.18,"A10":0},
{"d":"2020-06-01","A04":-0.20,"A10":0},
{"d":"2020-06-16","A04":-0.18,"A10":0},
{"d":"2020-07-01","A04":-0.16,"A10":0},
{"d":"2020-07-16","A04":-0.14,"A10":0},
{"d":"2020-08-01","A04":-0.14,"A10":0},
{"d":"2020-08-16","A04":-0.10,"A10":0},
{"d":"2020-09-01","A04":-0.08,"A10":0},
{"d":"2020-09-16","A04":-0.10,"A10":0},
{"d":"2020-10-01","A04":-0.08,"A10":0},
{"d":"2020-10-16","A04":-0.12,"A10":0},
{"d":"2020-11-01","A04":-0.10,"A10":0},
{"d":"2020-11-16","A04":-0.12,"A10":0},
{"d":"2020-12-01","A04":-0.12,"A10":0},
{"d":"2020-12-16","A04":-0.16,"A10":0},
{"d":"2021-01-01","A04":-0.20,"A10":0},
{"d":"2021-01-16","A04":-0.22,"A10":0},
{"d":"2021-02-01","A04":-0.20,"A10":0},
{"d":"2021-02-16","A04":-0.16,"A10":0},
{"d":"2021-03-01","A04":-0.14,"A10":0},
{"d":"2021-03-16","A04":-0.08,"A10":0},
{"d":"2021-04-01","A04":-0.06,"A10":0},
{"d":"2021-04-16","A04":-0.04,"A10":0},
{"d":"2021-05-01","A04":-0.06,"A10":0},
{"d":"2021-05-16","A04":-0.04,"A10":0},
{"d":"2021-06-01","A04":-0.06,"A10":0},
{"d":"2021-06-16","A04":-0.08,"A10":0},
{"d":"2021-07-01","A04":-0.06,"A10":0},
{"d":"2021-07-16","A04":-0.10,"A10":0},
{"d":"2021-08-01","A04":-0.08,"A10":0},
{"d":"2021-08-16","A04":-0.12,"A10":0},
{"d":"2021-09-01","A04":-0.10,"A10":0},
{"d":"2021-09-16","A04":-0.12,"A10":0},
{"d":"2021-10-01","A04":-0.16,"A10":0},
{"d":"2021-10-16","A04":-0.18,"A10":0},
{"d":"2021-11-01","A04":-0.20,"A10":0},
{"d":"2021-11-16","A04":-0.21,"A10":0},
{"d":"2021-12-01","A04":-0.20,"A10":0},
{"d":"2021-12-16","A04":-0.18,"A10":0},
{"d":"2022-01-01","A04":-0.16,"A10":0},
{"d":"2022-01-16","A04":-0.14,"A10":0},
{"d":"2022-02-01","A04":-0.12,"A10":0},
{"d":"2022-02-16","A04":-0.10,"A10":0},
{"d":"2022-03-01","A04":-0.14,"A10":0},
{"d":"2022-03-16","A04":-0.12,"A10":0},
{"d":"2022-04-01","A04":-0.08,"A10":0},
{"d":"2022-04-16","A04":-0.10,"A10":0},
{"d":"2022-05-01","A04":-0.07,"A10":0},
{"d":"2022-05-16","A04":-0.12,"A10":0},
{"d":"2022-06-01","A04":-0.06,"A10":0},
{"d":"2022-06-16","A04":-0.02,"A10":0},
{"d":"2022-07-01","A04":0.08,"A10":0},
{"d":"2022-07-16","A04":0.12,"A10":0},
{"d":"2022-08-01","A10":0},
{"d":"2022-08-16","A10":0},
{"d":"2022-09-01","A10":0},
{"d":"2022-09-16","A10":0},
{"d":"2022-10-01","A10":0},
{"d":"2022-10-16","A10":0},
{"d":"2022-11-01","A10":0},
{"d":"2022-11-16","A10":0},
{"d":"2022-12-01","A10":0},
{"d":"2022-12-16","A10":0},
{"d":"2022-12-31","A10":0}
]
},
"layer":[
 {
  "data":{"values":[{}]},
  "mark":{"type":"rect","color":"#7DC67E","opacity":1},
  "encoding":{
   "x":{"datum":{"year":1995,"month":10,"date":3,"utc":true},"type":"temporal","title":null},
   "x2":{"datum":{"year":2023,"month":12,"date":24,"utc":true}},
   "y":{"datum":5.615,"type":"quantitative","title":null},
   "y2":{"datum":5.307}
  }
 },
 {
  "data":{"values":[{}]},
  "mark":{"type":"text","text":"ADAM Informe. Evolution historique des performances en euros pour des détentions de 4 ans (A04) à 10 ans (A10) avec les revenus connus capitalisés","font":"Open Sans","fontSize":23.8,"color":"#1A1A1A","align":"center","baseline":"middle"},
  "encoding":{
   "x":{"datum":{"year":2009,"month":11,"date":14,"utc":true},"type":"temporal","title":null},
   "y":{"datum":5.462,"type":"quantitative","title":null}
  }
 },
 {
  "data":{"values":[{}]},
  "mark":{"type":"rule","color":"#BFBFBF","strokeWidth":1.5},
  "encoding":{"y":{"datum":-0.4,"type":"quantitative","title":null}}
 },
 {
  "data":{"name":"perf"},
  "transform":[{"fold":["A04","A07","A10"],"as":["k","v"]}],
  "mark":{"type":"point","filled":false,"size":1369,"strokeWidth":1.8,"opacity":1},
  "encoding":{
   "x":{"field":"d","type":"temporal","title":null,
    "scale":{"type":"utc","nice":false,"domain":[{"year":1997,"month":1,"date":1,"utc":true},{"year":2023,"month":1,"date":1,"utc":true}]},
    "axis":{"grid":true,"labelPadding":14,"labelExpr":"utcFormat(datum.value, '%d/%m/%Y')",
     "values":[{"year":1997,"month":1,"date":1,"utc":true},{"year":1999,"month":1,"date":1,"utc":true},{"year":2001,"month":1,"date":1,"utc":true},{"year":2003,"month":1,"date":1,"utc":true},{"year":2005,"month":1,"date":1,"utc":true},{"year":2007,"month":1,"date":1,"utc":true},{"year":2009,"month":1,"date":1,"utc":true},{"year":2011,"month":1,"date":1,"utc":true},{"year":2013,"month":1,"date":1,"utc":true},{"year":2015,"month":1,"date":1,"utc":true},{"year":2017,"month":1,"date":1,"utc":true},{"year":2019,"month":1,"date":1,"utc":true},{"year":2021,"month":1,"date":1,"utc":true}]}},
   "y":{"field":"v","type":"quantitative","title":null,
    "scale":{"domain":[-1,5],"nice":false},
    "axis":{"grid":true,"values":[-1,0,1,2,3,4,5],"labelPadding":15,"minExtent":75,"maxExtent":75,
     "labelExpr":"datum.value < 0 ? '- ' + format(-datum.value, '.0%') : format(datum.value, '.0%')"}},
   "color":{"field":"k","type":"nominal",
    "scale":{"domain":["A04","A07","A10","0,0%"],"range":["#FFC000","#0070C0","#FF0000","#000000"]},
    "legend":{"title":null,"orient":"none","legendX":1318,"legendY":51,"fillColor":"white","padding":22,"rowPadding":20,"symbolSize":1369,"symbolStrokeWidth":2,"labelFont":"Open Sans","labelFontSize":19,"labelFontWeight":"bold","labelColor":"#595959","labelOffset":5,"labelLimit":0,
     "labelExpr":"datum.label == '0,0%' ? datum.label : 'Rendement_' + datum.label"}},
   "shape":{"field":"k","type":"nominal",
    "scale":{"domain":["A04","A07","A10","0,0%"],"range":["M-0.23,0H0.23M0,-0.23V0.23","M-0.23,0H0.23M0,-0.23V0.23","M-0.23,0H0.23M0,-0.23V0.23","M-1,-0.04H1V0.04H-1Z"]},
    "legend":{"title":null,"orient":"none","legendX":1318,"legendY":51,"fillColor":"white","padding":22,"rowPadding":20,"symbolSize":1369,"symbolStrokeWidth":2,"labelFont":"Open Sans","labelFontSize":19,"labelFontWeight":"bold","labelColor":"#595959","labelOffset":5,"labelLimit":0,
     "labelExpr":"datum.label == '0,0%' ? datum.label : 'Rendement_' + datum.label"}},
   "order":{"field":"k","type":"ordinal"}
  }
 },
 {
  "data":{"name":"zero"},
  "mark":{"type":"line","color":"#000000","strokeWidth":4},
  "encoding":{"x":{"field":"d","type":"temporal","title":null},"y":{"field":"v","type":"quantitative","title":null}}
 },
 {
  "data":{"values":[{}]},
  "mark":{"type":"rect","color":"white","opacity":1},
  "encoding":{
   "x":{"datum":{"year":1998,"month":8,"date":18,"utc":true},"type":"temporal","title":null},
   "x2":{"datum":{"year":2020,"month":10,"date":23,"utc":true}},
   "y":{"datum":5.1,"type":"quantitative","title":null},
   "y2":{"datum":4.62}
  }
 },
 {
  "data":{"values":[{}]},
  "mark":{"type":"text","text":["Performance par rapport à l'indice S&P 500 INDEX GROSS TR  du placement Sun Life Financial Inc en fonction de la date de début pour des durées","entre 4 (A04) et 10 ans (A10).  Cotations entre mars. 2000 et juil. 2026. Revenus CAPITALISES depuis nov. 2000."],"lineHeight":28,"font":"Open Sans","fontSize":18.2,"fontWeight":"bold","color":"#595959","align":"center","baseline":"middle"},
  "encoding":{
   "x":{"datum":{"year":2009,"month":10,"date":19,"utc":true},"type":"temporal","title":null},
   "y":{"datum":4.99,"type":"quantitative","title":null}
  }
 }
]
}
